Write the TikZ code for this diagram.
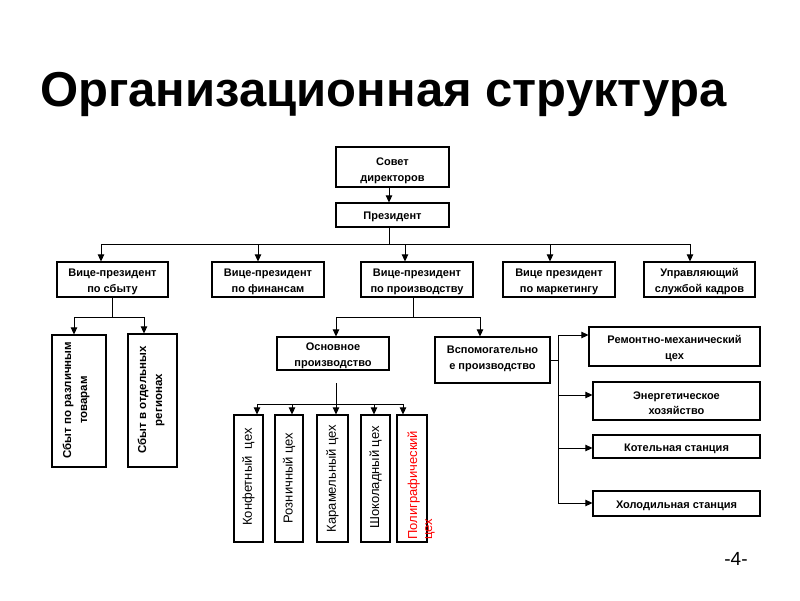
\documentclass[tikz,border=0pt]{standalone}
\usepackage{fontspec}
\setmainfont{Liberation Sans}
\usetikzlibrary{arrows.meta,calc}
\newcommand\tup[1][12pt]{\rule{0pt}{#1}}
\begin{document}
\begin{tikzpicture}[x=1pt,y=-1pt,
  box/.style={draw, line width=1.2pt, inner sep=0pt, align=center, font=\bfseries\fontsize{11}{15.5}\selectfont},
  vbox/.style={draw, line width=1.2pt, inner sep=0pt},
  vtext/.style={rotate=90, align=center, inner sep=0pt, font=\fontsize{13}{15}\selectfont},
  stext/.style={rotate=90, align=center, inner sep=0pt, font=\bfseries\fontsize{11.5}{16}\selectfont},
  conn/.style={line width=0.9pt},
  arr/.style={line width=0.9pt, -{Triangle[length=7pt,width=6.5pt]}},
]
\useasboundingbox (0,0) rectangle (800,600);
\fill[white] (0,0) rectangle (800,600);

\node[anchor=base, inner sep=0pt, font=\bfseries\fontsize{49}{55}\selectfont] (title) at (383.5,106) {Организационная структура};

% top
\node[box, minimum width=113pt, minimum height=40pt] (sovet) at (392.5,167) {\tup[15pt]Совет\\директоров};
\node[box, minimum width=113pt, minimum height=24pt] (pres) at (392.5,215) {\tup Президент};
\draw[arr] ([xshift=-3.5pt]sovet.south) -- ([xshift=-3.5pt]pres.north);

% VP row
\node[box, minimum width=111pt, minimum height=35pt] (vp1) at (112.5,279.5) {\tup Вице-президент\\по сбыту};
\node[box, minimum width=112pt, minimum height=35pt] (vp2) at (268,279.5) {\tup Вице-президент\\по финансам};
\node[box, minimum width=112pt, minimum height=35pt] (vp3) at (417,279.5) {\tup Вице-президент\\по производству};
\node[box, minimum width=112pt, minimum height=35pt] (vp4) at (559,279.5) {\tup Вице президент\\по маркетингу};
\node[box, minimum width=111pt, minimum height=35pt] (vp5) at (699.5,279.5) {\tup Управляющий\\службой кадров};

\coordinate (busL) at (101,244);
\coordinate (busR) at (690,244);
\draw[conn] ([xshift=-3.5pt]pres.south) -- ([xshift=-3.5pt]pres.south |- busL);
\draw[conn] (busL) -- (busR);
\draw[arr] (busL) -- (busL |- vp1.north);
\draw[arr] ([xshift=-10pt]vp2.north |- busL) -- ([xshift=-10pt]vp2.north);
\draw[arr] ([xshift=-12pt]vp3.north |- busL) -- ([xshift=-12pt]vp3.north);
\draw[arr] ([xshift=-9pt]vp4.north |- busL) -- ([xshift=-9pt]vp4.north);
\draw[arr] (busR) -- (busR |- vp5.north);

% sales subtree
\node[vbox, minimum width=54pt, minimum height=132pt] (s1) at (79,401) {};
\node[vbox, minimum width=49pt, minimum height=133pt] (s2) at (152.5,400.5) {};
\node[stext] (s1t) at (76,400) {Сбыт по различным\\товарам};
\node[stext] (s2t) at (151,400) {Сбыт в отдельных\\регионах};
\coordinate (sbusL) at (74,317);
\coordinate (sbusR) at (144,317);
\draw[conn] (vp1.south) -- (vp1.south |- sbusL);
\draw[conn] (sbusL) -- (sbusR);
\draw[arr] (sbusL) -- (sbusL |- s1.north);
\draw[arr] (sbusR) -- (sbusR |- s2.north);

% production subtree
\node[box, minimum width=112pt, minimum height=33pt] (osn) at (333,353.5) {\tup Основное\\производство};
\node[box, minimum width=115pt, minimum height=46pt] (vsp) at (492.5,360) {Вспомогательно\\е производство\rule[-5pt]{0pt}{0pt}};
\coordinate (pbusL) at (336,317);
\coordinate (pbusR) at (480,317);
\draw[conn] ([xshift=-4pt]vp3.south) -- ([xshift=-4pt]vp3.south |- pbusL);
\draw[conn] (pbusL) -- (pbusR);
\draw[arr] (pbusL) -- (pbusL |- osn.north);
\draw[arr] (pbusR) -- (pbusR |- vsp.north);

% shops
\node[vbox, minimum width=29pt, minimum height=127pt] (k1) at (248.5,478.5) {};
\node[vbox, minimum width=28pt, minimum height=127pt] (k2) at (289,478.5) {};
\node[vbox, minimum width=31pt, minimum height=127pt] (k3) at (332.5,478.5) {};
\node[vbox, minimum width=29pt, minimum height=127pt] (k4) at (375.5,478.5) {};
\node[vbox, minimum width=30pt, minimum height=127pt] (k5) at (412,478.5) {};
\node[vtext] (k1t) at (248.5,477) {Конфетный\ \ цех};
\node[vtext] (k2t) at (289,478) {Розничный цех};
\node[vtext] (k3t) at (332.5,478.5) {Карамельный цех};
\node[vtext] (k4t) at (375.5,477.5) {Шоколадный цех};
\node[vtext, align=left, anchor=west, text=red] (k5t) at (421,540) {Полиграфический\\цех};

\coordinate (kstem) at (336,383);
\coordinate (kbusL) at (257,404);
\coordinate (ka2) at (292,404);
\coordinate (ka3) at (336,404);
\coordinate (ka4) at (374,404);
\coordinate (kbusR) at (403,404);
\draw[conn] (kstem) -- (ka3);
\draw[conn] (kbusL) -- (kbusR);
\draw[arr] (kbusL) -- (kbusL |- k1.north);
\draw[arr] (ka2) -- (ka2 |- k2.north);
\draw[arr] (ka3) -- (ka3 |- k3.north);
\draw[arr] (ka4) -- (ka4 |- k4.north);
\draw[arr] (kbusR) -- (kbusR |- k5.north);

% auxiliary services
\node[box, minimum width=171pt, minimum height=39pt] (r1) at (674.5,346.5) {\tup Ремонтно-механический\\цех};
\node[box, minimum width=167pt, minimum height=38pt] (r2) at (676.5,401) {\tup Энергетическое\\хозяйство};
\node[box, minimum width=167pt, minimum height=23pt] (r3) at (676.5,446.5) {\tup Котельная станция};
\node[box, minimum width=167pt, minimum height=25pt] (r4) at (676.5,503.5) {\tup Холодильная станция};
\coordinate (rtop) at (558,335);
\coordinate (ra2) at (558,395);
\coordinate (ra3) at (558,448);
\coordinate (rbot) at (558,503);
\draw[conn] (vsp.east) -- (vsp.east -| rtop);
\draw[conn] (rtop) -- (rbot);
\draw[arr] (rtop) -- (rtop -| r1.west);
\draw[arr] (ra2) -- (ra2 -| r2.west);
\draw[arr] (ra3) -- (ra3 -| r3.west);
\draw[arr] (rbot) -- (rbot -| r4.west);

\node[anchor=base, inner sep=0pt, font=\fontsize{19}{22}\selectfont] (page) at (736,565) {-4-};
\end{tikzpicture}
\end{document}
